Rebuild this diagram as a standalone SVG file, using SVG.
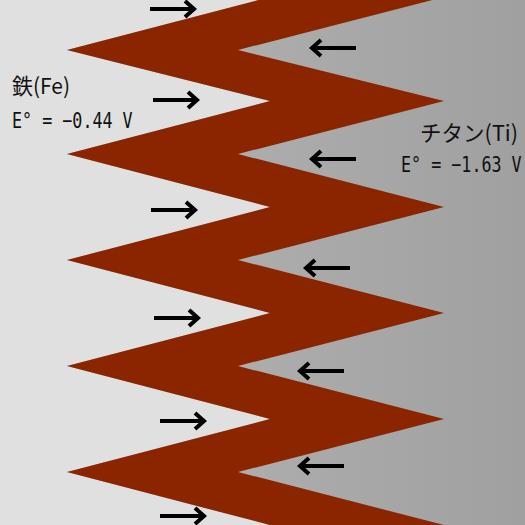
<svg xmlns="http://www.w3.org/2000/svg" width="525" height="525" viewBox="0 0 525 525">
  <style>
    .arrow { fill: none; stroke: #000000; stroke-width: 4; stroke-linecap: butt; stroke-linejoin: miter; }
    .lbl { font-family: "Noto Sans CJK JP", "DejaVu Sans", sans-serif; font-size: 22px; fill: #111111; }
    .pot { font-family: "DejaVu Sans Mono", "Noto Sans CJK JP", monospace; font-size: 22px; fill: #111111; }
  </style>
  <defs>
    <linearGradient id="tiGrad" gradientUnits="userSpaceOnUse" x1="240" y1="0" x2="525" y2="0">
      <stop offset="0" stop-color="#adadad"/>
      <stop offset="1" stop-color="#a0a0a0"/>
    </linearGradient>
    <path id="rArrow" class="arrow" d="M0,0 H44 M35,-8 L44,0 L35,8"/>
    <path id="lArrow" class="arrow" d="M0,0 H-44 M-35,-8 L-44,0 L-35,8"/>
  </defs>

  <g id="titanium-region">
    <rect x="0" y="0" width="525" height="525" fill="url(#tiGrad)"/>
  </g>
  <g id="iron-region">
    <polygon fill="#e0e0e0" points="0,-60 67,-56 270,-3 67,50 270,101 67,154 270,207 67,260 270,313 67,366 270,419 67,472 270,525 67,578 0,580"/>
  </g>
  <g id="interface-band">
    <polygon fill="#8a2500" points="67,-56 270,-3 67,50 270,101 67,154 270,207 67,260 270,313 67,366 270,419 67,472 270,525 67,578 238,578 444,525 238,472 444,419 238,366 444,313 238,260 444,207 238,154 444,101 238,50 444,-3 238,-56"/>
  </g>

  <g id="connectors">
    <use href="#rArrow" x="150" y="9"/>
    <use href="#rArrow" x="153" y="100"/>
    <use href="#rArrow" x="151" y="210"/>
    <use href="#rArrow" x="154" y="318"/>
    <use href="#rArrow" x="160" y="421"/>
    <use href="#rArrow" x="160" y="516"/>
    <use href="#lArrow" x="356" y="48"/>
    <use href="#lArrow" x="356" y="159"/>
    <use href="#lArrow" x="350" y="268"/>
    <use href="#lArrow" x="344" y="371"/>
    <use href="#lArrow" x="344" y="466"/>
  </g>

  <g id="iron-label">
    <text class="lbl" x="12" y="94" textLength="58" lengthAdjust="spacingAndGlyphs">鉄(Fe)</text>
    <text class="pot" transform="translate(12,128) scale(0.76,1)" x="0" y="0">E° = −0.44 V</text>
  </g>
  <g id="titanium-label">
    <text class="lbl" x="420" y="141" textLength="98" lengthAdjust="spacingAndGlyphs">チタン(Ti)</text>
    <text class="pot" transform="translate(401,172) scale(0.76,1)" x="0" y="0">E° = −1.63 V</text>
  </g>
</svg>
